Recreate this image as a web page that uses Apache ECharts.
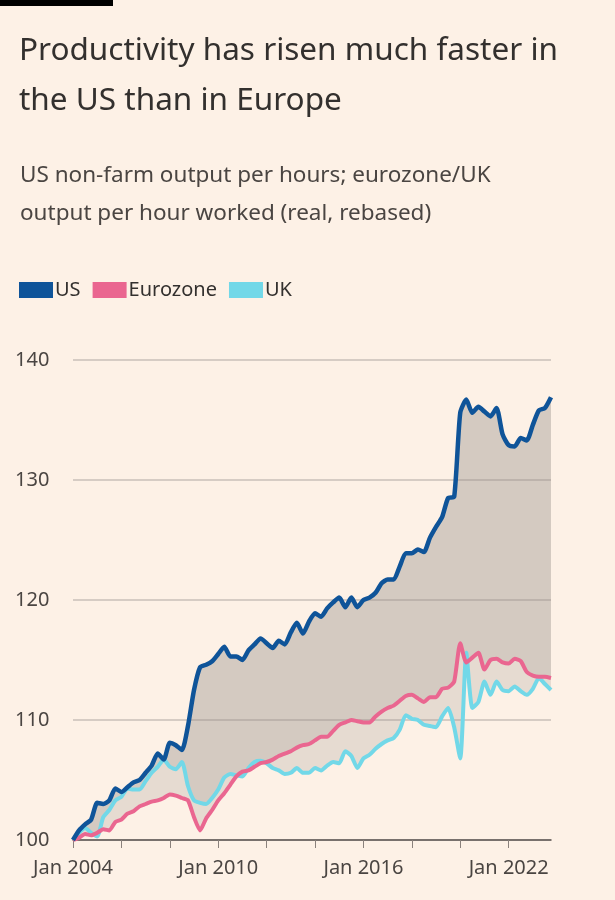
<!DOCTYPE html>
<html>
<head>
<meta charset="utf-8">
<script src="https://cdn.jsdelivr.net/npm/echarts@6/dist/echarts.min.js"></script>
<style>
  html, body { margin: 0; padding: 0; background: #fdf1e6; }
  #chart { width: 615px; height: 900px; }
</style>
</head>
<body>
<div id="chart"></div>
<script>
// quarterly, Q1 2004 .. Q4 2023
var quarters = [];
for (var y = 2004; y <= 2023; y++) {
  for (var q = 1; q <= 4; q++) quarters.push(y + ' Q' + q);
}
var usData = [100, 100.8, 101.3, 101.7, 103.1, 103.0, 103.3, 104.3, 104.0, 104.4,
  104.8, 105.0, 105.6, 106.2, 107.2, 106.7, 108.1, 107.9, 107.5, 109.5,
  112.5, 114.4, 114.6, 114.9, 115.5, 116.1, 115.3, 115.3, 115.0, 115.8,
  116.3, 116.8, 116.4, 116.0, 116.6, 116.3, 117.3, 118.1, 117.2, 118.2,
  118.9, 118.6, 119.3, 119.8, 120.2, 119.4, 120.2, 119.4, 120.0, 120.2,
  120.6, 121.4, 121.7, 121.7, 122.8, 123.9, 123.9, 124.2, 124.0, 125.2,
  126.1, 126.9, 128.5, 128.6, 135.6, 136.7, 135.6, 136.1, 135.7, 135.3,
  136.0, 133.8, 132.9, 132.8, 133.5, 133.3, 134.6, 135.8, 136.0, 136.9];
var ezData = [100, 100.2, 100.5, 100.4, 100.6, 100.9, 100.8, 101.5, 101.7, 102.2,
  102.4, 102.8, 103.0, 103.2, 103.3, 103.5, 103.8, 103.7, 103.5, 103.3,
  101.9, 100.8, 101.8, 102.5, 103.3, 103.9, 104.6, 105.3, 105.7, 105.8,
  106.1, 106.4, 106.5, 106.7, 107.0, 107.2, 107.4, 107.7, 107.9, 108.0,
  108.3, 108.6, 108.6, 109.1, 109.6, 109.8, 110.0, 109.9, 109.8, 109.8,
  110.3, 110.7, 111.0, 111.2, 111.6, 112.0, 112.1, 111.8, 111.5, 111.9,
  111.9, 112.6, 112.7, 113.2, 116.4, 114.8, 115.2, 115.6, 114.2, 115.0,
  115.1, 114.8, 114.7, 115.1, 114.9, 114.0, 113.7, 113.6, 113.6, 113.5];
var ukData = [100, 100.6, 101.0, 100.6, 100.3, 101.9, 102.5, 103.3, 103.6, 104.3,
  104.2, 104.2, 104.9, 105.6, 106.1, 106.7, 106.1, 105.9, 106.5, 104.5,
  103.3, 103.1, 103.0, 103.5, 104.2, 105.2, 105.5, 105.4, 105.3, 106.0,
  106.5, 106.6, 106.4, 106.0, 105.8, 105.5, 105.6, 106.0, 105.6, 105.6,
  106.0, 105.8, 106.2, 106.5, 106.4, 107.4, 107.0, 106.0, 106.8, 107.1,
  107.6, 108.0, 108.3, 108.5, 109.2, 110.4, 110.1, 110.0, 109.6, 109.5,
  109.4, 110.3, 111.0, 109.4, 106.8, 115.6, 111.0, 111.5, 113.2, 112.1,
  113.2, 112.5, 112.4, 112.8, 112.4, 112.1, 112.6, 113.5, 113.0, 112.5];
var yTicks = [100, 110, 120, 130, 140];

function bandBase(a, b) { return a.map(function (v, i) { return Math.min(v, b[i]); }); }
function bandSize(a, b) { return a.map(function (v, i) { return +Math.abs(v - b[i]).toFixed(2); }); }

var fill = 'rgba(150,140,138,0.22)';
function band(stack, base, size) {
  return [
    { type: 'line', stack: stack, data: base, symbol: 'none', silent: true,
      lineStyle: { opacity: 0 }, smooth: 0.2 },
    { type: 'line', stack: stack, data: size, symbol: 'none', silent: true,
      lineStyle: { opacity: 0 }, areaStyle: { color: fill, opacity: 1 }, smooth: 0.2 }
  ];
}

var chart = echarts.init(document.getElementById('chart'));
var txt = '#33302e';
var font = '"Noto Sans", "Open Sans", sans-serif';
var option = {
  backgroundColor: '#fdf1e6',
  animation: false,
  textStyle: { fontFamily: font },
  title: [{
    text: 'Productivity has risen much faster in\nthe US than in Europe',
    left: 14, top: 21,
    textStyle: { fontSize: 31.5, fontWeight: 'normal', color: txt, lineHeight: 50, fontFamily: font }
  }, {
    text: 'US non-farm output per hours; eurozone/UK\noutput per hour worked (real, rebased)',
    left: 15, top: 152,
    textStyle: { fontSize: 22.5, fontWeight: 'normal', color: '#4a4542', lineHeight: 38, fontFamily: font }
  }],
  graphic: [{ type: 'rect', left: 0, top: 0, shape: { width: 113, height: 6 }, style: { fill: '#000' } }],
  legend: {
    left: 14, top: 275, itemWidth: 34, itemHeight: 16, itemGap: 12, icon: 'rect',
    data: ['US', 'Eurozone', 'UK'],
    textStyle: { fontSize: 20, color: txt, padding: [0, 0, 0, -3] }
  },
  grid: { left: 73, right: 64, top: 360, bottom: 60, containLabel: false },
  xAxis: {
    type: 'category', data: quarters, boundaryGap: false,
    axisLine: { lineStyle: { color: '#5a5350', width: 1.5 } },
    axisTick: { show: true, length: 8, interval: function (i) { return i % 8 === 0; },
      lineStyle: { color: '#8a817c' } },
    axisLabel: { interval: function (i) { return i % 24 === 0; }, fontSize: 20, color: '#4a4542', margin: 18,
      formatter: function (v) { return 'Jan ' + v.slice(0, 4); } }
  },
  yAxis: {
    type: 'value', min: 100, max: 140, interval: 10,
    axisLine: { show: false }, axisTick: { show: false },
    splitLine: { lineStyle: { color: '#c8bfb8', width: 1.5 } },
    axisLabel: { fontSize: 20, color: '#4a4542', align: 'left', margin: 58,
      formatter: function (v) { return yTicks.indexOf(v) >= 0 ? v : ''; } }
  },
  series: band('ez', bandBase(usData, ezData), bandSize(usData, ezData))
    .concat(band('uk', bandBase(usData, ukData), bandSize(usData, ukData)))
    .concat([
      { name: 'UK', type: 'line', data: ukData, symbol: 'none', smooth: 0.2,
        color: '#72d8e8', lineStyle: { width: 4, color: '#72d8e8' } },
      { name: 'Eurozone', type: 'line', data: ezData, symbol: 'none', smooth: 0.2,
        color: '#ea6690', lineStyle: { width: 4, color: '#ea6690' } },
      { name: 'US', type: 'line', data: usData, symbol: 'none', smooth: 0.2,
        color: '#0f5499', lineStyle: { width: 4.5, color: '#0f5499' } }
    ])
};
chart.setOption(option);
</script>
</body>
</html>
